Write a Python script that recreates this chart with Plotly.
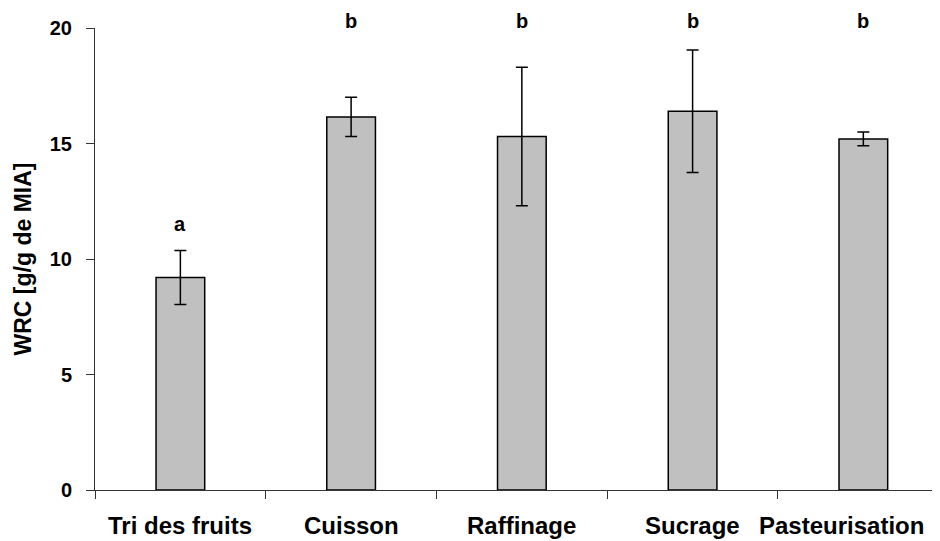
import plotly.graph_objects as go

categories = ["Tri des fruits", "Cuisson", "Raffinage", "Sucrage", "Pasteurisation"]
wrc_values = [9.2, 16.15, 15.3, 16.4, 15.2]
wrc_errors = [1.17, 0.85, 3.0, 2.65, 0.3]
letters = ["a", "b", "b", "b", "b"]
letter_y = [11.5, 20.3, 20.3, 20.3, 20.3]

FONT = "Liberation Sans"
Y_MAX = 20

fig = go.Figure()
fig.add_trace(go.Bar(
    x=categories,
    y=wrc_values,
    width=0.285,
    marker=dict(color="#C0C0C0", line=dict(color="black", width=1.5)),
    error_y=dict(type="data", array=wrc_errors, visible=True,
                 color="black", thickness=1.5, width=6),
    showlegend=False,
))

for c, t, yy in zip(categories, letters, letter_y):
    fig.add_annotation(x=c, y=yy / Y_MAX, xref="x", yref="paper", text=t, showarrow=False,
                       font=dict(family=FONT, size=20, color="black", weight="bold"),
                       yanchor="middle")

# category labels (last one kept inside the picture, as in the reference)
label_font = dict(family=FONT, size=24, color="black", weight="bold")
for i, c in enumerate(categories):
    if i == len(categories) - 1:
        fig.add_annotation(x=0.984, xref="paper", y=-0.076, yref="paper", text=c,
                           showarrow=False, xanchor="right", yanchor="middle", font=label_font)
    else:
        fig.add_annotation(x=c, xref="x", y=-0.076, yref="paper", text=c,
                           showarrow=False, xanchor="center", yanchor="middle", font=label_font)

fig.update_layout(
    width=940, height=541,
    margin=dict(l=87, r=8, t=20, b=59, autoexpand=False),
    paper_bgcolor="white", plot_bgcolor="white",
    font=dict(family=FONT, size=20, color="black"),
    xaxis=dict(
        type="category",
        range=[-0.5, 4.449],
        tickson="boundaries",
        ticks="outside", ticklen=8, tickcolor="#333",
        showticklabels=False,
        showline=True, linecolor="#333", linewidth=1,
        showgrid=False, zeroline=False, automargin=False,
    ),
    yaxis=dict(
        range=[0, Y_MAX],
        tickvals=[0, 5, 10, 15, 20],
        ticks="outside", ticklen=8, tickcolor="#333",
        showline=True, linecolor="#333", linewidth=1,
        showgrid=False, zeroline=False, automargin=False,
        tickfont=dict(family=FONT, size=20, color="black", weight="bold"),
        ticklabelstandoff=10,
        title=dict(text="WRC [g/g de MIA]",
                   font=dict(family=FONT, size=23, color="black", weight="bold"),
                   standoff=11),
    ),
)

fig.write_html("out.html")
